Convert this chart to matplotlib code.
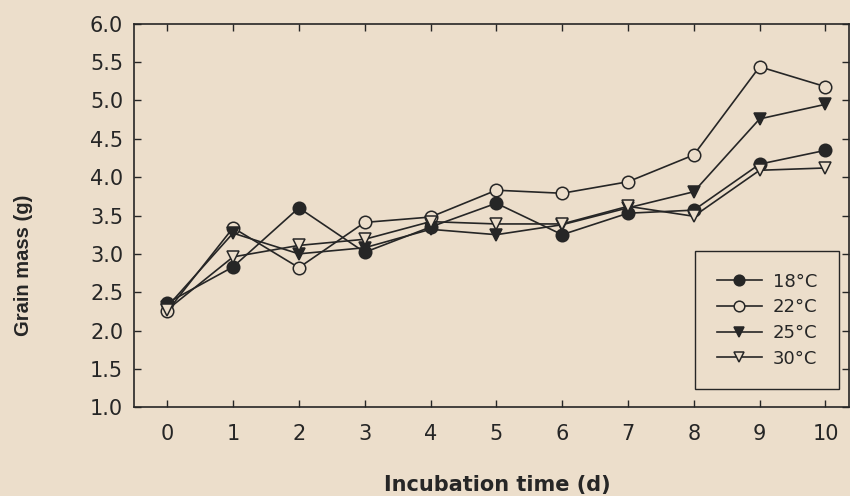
import numpy as np
import matplotlib.pyplot as plt

plt.rcParams['font.family'] = ['DejaVu Sans']

days = [0, 1, 2, 3, 4, 5, 6, 7, 8, 9, 10]
t18 = [2.36, 2.83, 3.60, 3.02, 3.35, 3.66, 3.25, 3.53, 3.57, 4.17, 4.35]
t22 = [2.25, 3.34, 2.82, 3.41, 3.48, 3.83, 3.79, 3.94, 4.29, 5.44, 5.18]
t25 = [2.31, 3.27, 3.00, 3.08, 3.32, 3.25, 3.38, 3.60, 3.81, 4.76, 4.95]
t30 = [2.27, 2.96, 3.11, 3.19, 3.42, 3.39, 3.39, 3.62, 3.49, 4.09, 4.12]
labels = ['18°C', '22°C', '25°C', '30°C']

bg = '#ecdecb'
ink = '#262626'

fig = plt.figure(figsize=(8.5, 4.96), dpi=100, facecolor=bg)
ax = fig.add_axes([0.158, 0.179, 0.841, 0.773], facecolor=bg)

styles = [('o', ink), ('o', bg), ('v', ink), ('v', bg)]
for ys, lab, (m, fc) in zip([t18, t22, t25, t30], labels, styles):
    ax.plot(days, ys, color=ink, lw=1.2, marker=m, markersize=9,
            markerfacecolor=fc, markeredgecolor=ink, markeredgewidth=1.1,
            label=lab)

yt = np.arange(1.0, 6.01, 0.5)
ax.set_xlim(-0.5, 10.36)
ax.set_ylim(1.0, 6.0)
ax.set_xticks(days)
ax.set_yticks(yt)
ax.set_yticklabels([f'{v:.1f}' for v in yt])
ax.tick_params(direction='in', length=5, width=1, colors=ink,
               top=True, right=True, labelsize=15)
ax.tick_params(axis='x', pad=12)
ax.tick_params(axis='y', pad=8)
for s in ax.spines.values():
    s.set_color(ink)
    s.set_linewidth(1.2)

ax.set_ylabel('Grain mass (g)', fontsize=14.5, fontweight='bold', color=ink,
              family='Liberation Sans')
ax.yaxis.label.set_va('center')
ax.yaxis.set_label_coords(-0.155, 0.37)
ax.set_xlabel('Incubation time (d)', fontsize=15, fontweight='bold', color=ink)
ax.xaxis.label.set_va('top')
ax.xaxis.set_label_coords(0.508, -0.178)

leg = ax.legend(loc='lower right', bbox_to_anchor=(0.986, 0.047),
                fontsize=13, frameon=True, fancybox=False, handlelength=2.5,
                borderpad=1.2, labelspacing=0.42, handletextpad=0.6,
                borderaxespad=0, markerscale=0.85)
leg.get_frame().set_facecolor(bg)
leg.get_frame().set_edgecolor(ink)
leg.get_frame().set_alpha(1)
for t in leg.get_texts():
    t.set_color(ink)

fig.savefig('out.png', dpi=100, facecolor=bg)
